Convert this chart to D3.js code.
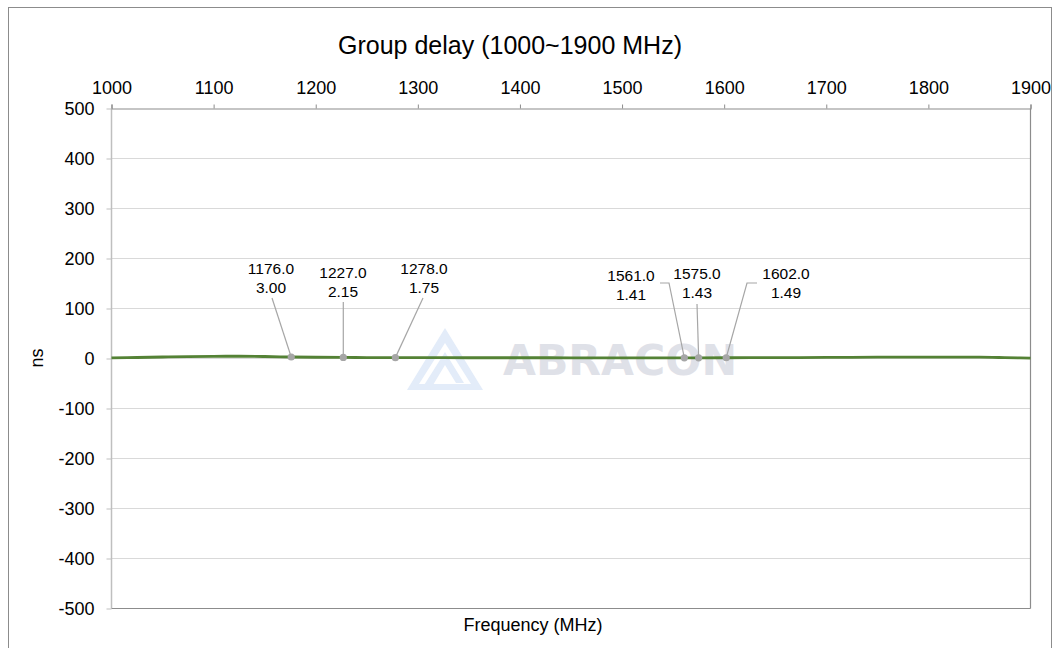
<!DOCTYPE html>
<html>
<head>
<meta charset="utf-8">
<script src="https://cdn.jsdelivr.net/npm/d3@7"></script>
<style>
  html, body { margin: 0; padding: 0; background: #fff; }
  svg text { font-family: "Liberation Sans", Arial, sans-serif; fill: #000; }
</style>
</head>
<body>
<svg id="chart" width="1060" height="648"></svg>
<script>
// ---- data ----
const title = "Group delay (1000~1900 MHz)";
const xTicks = [1000, 1100, 1200, 1300, 1400, 1500, 1600, 1700, 1800, 1900];
const yTicks = [500, 400, 300, 200, 100, 0, -100, -200, -300, -400, -500];
const freq  = [1000, 1025, 1050, 1075, 1100, 1125, 1150, 1176, 1200, 1227, 1250, 1278, 1300, 1350, 1400, 1450, 1500, 1530, 1561, 1575, 1602, 1650, 1700, 1750, 1800, 1850, 1875, 1900];
const delay = [1.2, 2.0, 3.0, 3.9, 4.4, 4.5, 4.0, 3.00, 2.5, 2.15, 1.95, 1.75, 1.65, 1.55, 1.5, 1.45, 1.42, 1.41, 1.41, 1.43, 1.49, 1.7, 2.1, 2.6, 2.9, 2.6, 1.8, 0.8];
const markerFreq  = [1176.0, 1227.0, 1278.0, 1561.0, 1575.0, 1602.0];
const markerDelay = [3.00, 2.15, 1.75, 1.41, 1.43, 1.49];
const xLabel = "Frequency (MHz)";
const yLabel = "ns";
const watermark = "ABRACON";

// ---- layout ----
const FONT = "'Liberation Sans', Arial, sans-serif";
const svg = d3.select("#chart");
const L = 111.5, R = 1030.5, T = 108.5, B = 608.5;
const x = d3.scaleLinear().domain([1000, 1900]).range([L, R]);
const y = d3.scaleLinear().domain([-500, 500]).range([B, T]);

// outer frame
svg.append("rect").attr("x", 8.5).attr("y", 7.5).attr("width", 1043).attr("height", 660)
  .attr("fill", "none").attr("stroke", "#8c8c8c").attr("stroke-width", 1);

// title
svg.append("text").attr("x", 510).attr("y", 54).attr("text-anchor", "middle")
  .style("font-size", "25px").text(title);

// gridlines
svg.append("g").selectAll("line").data(yTicks.filter(d => d !== 500 && d !== -500)).join("line")
  .attr("x1", L).attr("x2", R).attr("y1", d => y(d)).attr("y2", d => y(d))
  .attr("stroke", "#d9d9d9").attr("stroke-width", 1);

// watermark
const wm = svg.append("g");
wm.append("path").attr("d", "M445,328 L483,390 L407,390 Z M445,343 L471,384 L419,384 Z")
  .attr("fill", "#e3ecf9").attr("fill-rule", "evenodd");
wm.append("path").attr("d", "M445,352 L464,383 L456,383 L445,365 L430,390 L421,390 Z")
  .attr("fill", "#e3ecf9");
wm.append("text").attr("x", 620).attr("y", 375).attr("text-anchor", "middle")
  .style("font-family", "'DejaVu Sans', sans-serif")
  .style("font-size", "43px").style("font-weight", "bold").style("fill", "#dfe1e8")
  .attr("textLength", 234).attr("lengthAdjust", "spacingAndGlyphs")
  .text(watermark);

// left axis (light)
svg.append("line").attr("x1", L).attr("x2", L).attr("y1", T).attr("y2", B)
  .attr("stroke", "#bfbfbf").attr("stroke-width", 1.5);
// right / bottom (darker)
svg.append("line").attr("x1", R).attr("x2", R).attr("y1", T).attr("y2", B)
  .attr("stroke", "#8c8c8c").attr("stroke-width", 1.2);
svg.append("line").attr("x1", L).attr("x2", R).attr("y1", B).attr("y2", B)
  .attr("stroke", "#8c8c8c").attr("stroke-width", 1.2);

// top axis
const xAxis = d3.axisTop(x).tickValues(xTicks).tickSize(4).tickPadding(11).tickFormat(d => String(d));
const gx = svg.append("g").attr("transform", `translate(0,${T})`).call(xAxis)
  .attr("font-family", FONT).attr("font-size", 18);
gx.select(".domain").attr("stroke", "#8c8c8c").attr("stroke-width", 1.2);
gx.selectAll(".tick line").attr("stroke", "#8c8c8c");
gx.selectAll("text").attr("fill", "#000");

// left axis ticks
const yAxis = d3.axisLeft(y).tickValues(yTicks).tickSize(5).tickPadding(12).tickFormat(d => String(d));
const gy = svg.append("g").attr("transform", `translate(${L},0)`).call(yAxis)
  .attr("font-family", FONT).attr("font-size", 18);
gy.select(".domain").remove();
gy.selectAll(".tick line").attr("stroke", "#bfbfbf");
gy.selectAll("text").attr("fill", "#000");

// axis titles
svg.append("text").attr("transform", `translate(43,358) rotate(-90)`).attr("text-anchor", "middle")
  .style("font-size", "18px").text(yLabel);
svg.append("text").attr("x", 533).attr("y", 631).attr("text-anchor", "middle")
  .style("font-size", "18px").text(xLabel);

// series line
const line = d3.line().x((d, i) => x(freq[i])).y(d => y(d)).curve(d3.curveMonotoneX);
svg.append("path").datum(delay).attr("d", line)
  .attr("fill", "none").attr("stroke", "#548235").attr("stroke-width", 2.8);

// marker annotations (label offsets are layout only)
const labelPos = [
  { lx: 271, ly: 274, path: (px, py) => `M272,298 L${px},${py}` },
  { lx: 343, ly: 278, path: (px, py) => `M${px},302 L${px},${py}` },
  { lx: 424, ly: 274, path: (px, py) => `M423,298 L${px},${py}` },
  { lx: 631, ly: 281, path: (px, py) => `M660,283 L669,283 L${px},${py}` },
  { lx: 697, ly: 279, path: (px, py) => `M697,304 L${px},${py}` },
  { lx: 786, ly: 279, path: (px, py) => `M757,283 L747,283 L${px},${py}` }
];
const ann = svg.append("g");
markerFreq.forEach((f, i) => {
  const px = x(f), py = y(markerDelay[i]);
  const p = labelPos[i];
  ann.append("path").attr("d", p.path(px, py)).attr("fill", "none")
    .attr("stroke", "#a6a6a6").attr("stroke-width", 1.2);
  ann.append("circle").attr("cx", px).attr("cy", py).attr("r", 3.6).attr("fill", "#a6a6a6");
  const t = ann.append("text").attr("text-anchor", "middle").style("font-size", "15.5px");
  t.append("tspan").attr("x", p.lx).attr("y", p.ly).text(f.toFixed(1));
  t.append("tspan").attr("x", p.lx).attr("y", p.ly + 19).text(markerDelay[i].toFixed(2));
});
</script>
</body>
</html>
